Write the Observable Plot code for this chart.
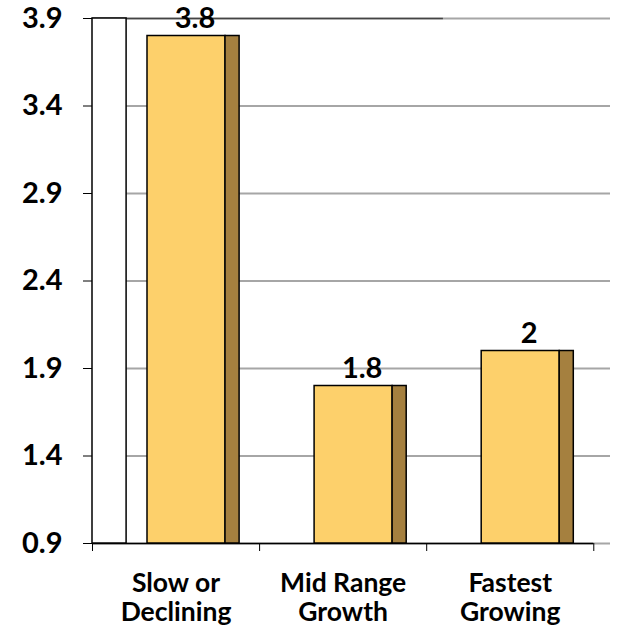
<!DOCTYPE html>
<html>
<head>
<meta charset="utf-8">
<script src="https://cdn.jsdelivr.net/npm/d3@7"></script>
<script src="https://cdn.jsdelivr.net/npm/@observablehq/plot@0.6"></script>
<style>
  html, body { margin: 0; padding: 0; background: #fff; }
  #chart svg text { font-weight: bold; fill: #000; }
</style>
</head>
<body>
<div id="chart"></div>
<script>
const categories = ["Slow or\nDeclining", "Mid Range\nGrowth", "Fastest\nGrowing"];
const values = [3.8, 1.8, 2];
const yTicks = [0.9, 1.4, 1.9, 2.4, 2.9, 3.4, 3.9];
const valueLabels = ["3.8", "1.8", "2"];

const data = values.map((v, i) => ({i, category: categories[i], value: v, label: valueLabels[i]}));
const yMin = yTicks[0], yMax = yTicks[yTicks.length - 1];

const chart = Plot.plot({
  width: 623,
  height: 628,
  marginLeft: 92,
  marginRight: 13,
  marginTop: 18,
  marginBottom: 85,
  style: {fontFamily: "Lato, sans-serif", fontWeight: "bold", background: "#fff"},
  x: {type: "linear", domain: [0, 3.1], axis: null},
  y: {domain: [yMin, yMax], axis: null},
  marks: [
    Plot.ruleY(yTicks, {stroke: "#a6a6a6", strokeWidth: 2}),
    Plot.ruleY([yMax], {x1: 0, x2: 2.1, stroke: "#444", strokeWidth: 1.5}),
    Plot.ruleY([yMin], {x1: 0, x2: 3, stroke: "#000", strokeWidth: 1.5}),
    Plot.rect([0], {x1: 0, x2: 1, y1: yMin, y2: yMax, insetRight: 133, fill: "#fff", stroke: "#000", strokeWidth: 1.5}),
    Plot.rectY(data, {x1: d => d.i, x2: d => d.i + 1, y1: yMin, y2: "value", insetLeft: 55, insetRight: 34, fill: "#fdd06b", stroke: "#000", strokeWidth: 1.5}),
    Plot.rectY(data, {x1: d => d.i, x2: d => d.i + 1, y1: yMin, y2: "value", insetLeft: 133, insetRight: 20, fill: "#a5803f", stroke: "#000", strokeWidth: 1.5}),
    Plot.text(data, {x: d => d.i + 0.5, y: "value", text: "label", dx: 19, dy: -8, lineAnchor: "bottom", fontSize: 29, fontWeight: "bold", fill: "#000"}),
    Plot.axisY({ticks: yTicks, tickFormat: d3.format(".1f"), label: null, tickSize: 9, tickPadding: 21, fontSize: 29, fontWeight: "bold", stroke: "#000"}),
    Plot.axisX({ticks: [0, 1, 2, 3], tickFormat: () => "", label: null, tickSize: 8, stroke: "#000"}),
    Plot.axisX({ticks: [0.5, 1.5, 2.5], tickFormat: d => categories[Math.floor(d)], label: null, tickSize: 0, tickPadding: 28, fontSize: 26.5, fontWeight: "bold", lineHeight: 1.1})
  ]
});
document.getElementById("chart").appendChild(chart);
</script>
</body>
</html>
